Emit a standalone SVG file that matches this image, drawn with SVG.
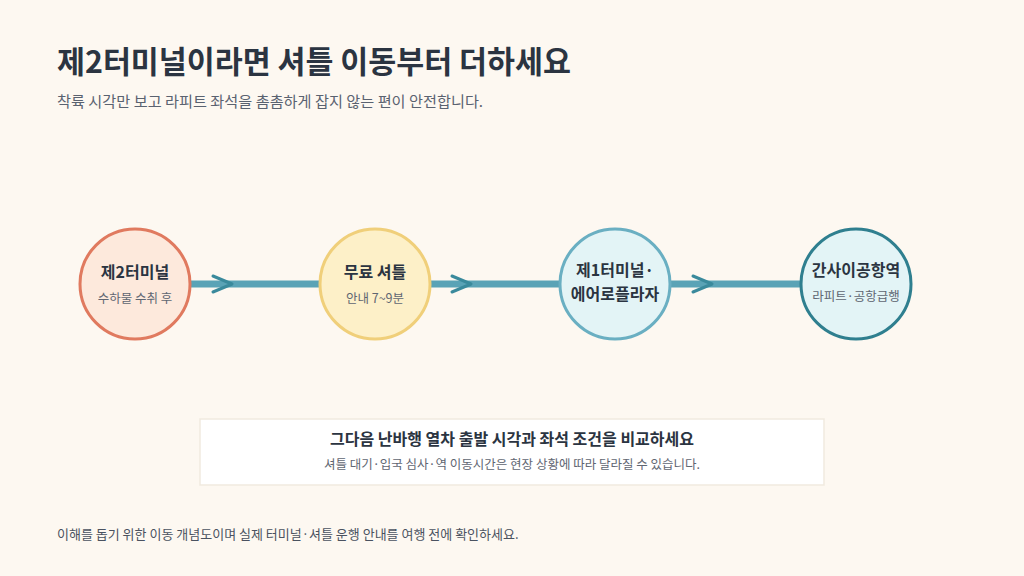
<svg xmlns="http://www.w3.org/2000/svg" width="1024" height="576" viewBox="0 0 1024 576">
<defs>
<style>
text{font-family:"Noto Sans CJK KR","Noto Sans",sans-serif}
.t{font-size:30.4px;font-weight:700;fill:#2b3441}
.s{font-size:15.2px;fill:#5a6270}
.nt{font-size:16px;font-weight:700;fill:#2b3441;text-anchor:middle}
.ns{font-size:12.5px;fill:#5f6672;text-anchor:middle}
.f{font-size:13px;fill:#4a5260}
.line{stroke:#5aa3b6;stroke-width:7;fill:none}
.chev{stroke:#3a8a9c;stroke-width:3;fill:none;stroke-linecap:round;stroke-linejoin:round}
</style>
</defs>
<rect width="1024" height="576" fill="#fdf8f1"/>
<text class="t" x="57" y="73">제2터미널이라면 셔틀 이동부터 더하세요</text>
<text class="s" x="57" y="107">착륙 시각만 보고 라피트 좌석을 촘촘하게 잡지 않는 편이 안전합니다.</text>
<g id="connectors">
<line class="line" x1="191" y1="284" x2="800" y2="284"/>
<path class="chev" d="M213 276 L232 284 L213 292"/>
<path class="chev" d="M452 276 L471 284 L452 292"/>
<path class="chev" d="M693 276 L712 284 L693 292"/>
</g>
<g id="node1">
<circle cx="135" cy="284" r="55" fill="#fde9dc" stroke="#e07a5f" stroke-width="3"/>
<text class="nt" x="135" y="278">제2터미널</text>
<text class="ns" x="135" y="303">수하물 수취 후</text>
</g>
<g id="node2">
<circle cx="375" cy="284" r="55" fill="#fdf0c8" stroke="#f0cf7a" stroke-width="3"/>
<text class="nt" x="375" y="278">무료 셔틀</text>
<text class="ns" x="375" y="303">안내 7~9분</text>
</g>
<g id="node3">
<circle cx="615" cy="284" r="55" fill="#e3f4f6" stroke="#6aafc2" stroke-width="3"/>
<text class="nt" x="615" y="276">제1터미널·</text>
<text class="nt" x="615" y="300">에어로플라자</text>
</g>
<g id="node4">
<circle cx="856" cy="284" r="55" fill="#e3f4f6" stroke="#2f7f8f" stroke-width="3"/>
<text class="nt" x="856" y="276">간사이공항역</text>
<text class="ns" x="856" y="301">라피트·공항급행</text>
</g>
<g id="note">
<rect x="200" y="419" width="624" height="66" fill="#ffffff" stroke="#f1eadf" stroke-width="1.5"/>
<text class="nt" x="512" y="445">그다음 난바행 열차 출발 시각과 좌석 조건을 비교하세요</text>
<text class="ns" x="512" y="469">셔틀 대기·입국 심사·역 이동시간은 현장 상황에 따라 달라질 수 있습니다.</text>
</g>
<text class="f" x="57" y="539">이해를 돕기 위한 이동 개념도이며 실제 터미널·셔틀 운행 안내를 여행 전에 확인하세요.</text>
</svg>
